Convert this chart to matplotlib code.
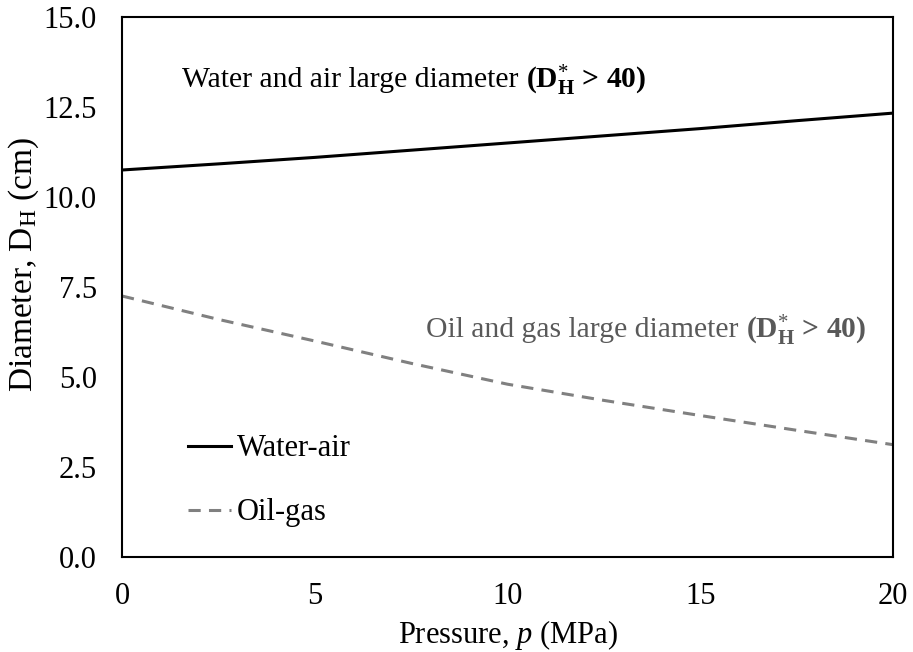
import matplotlib
matplotlib.use("Agg")
import matplotlib.pyplot as plt

pressure = [0, 2.5, 5, 7.5, 10, 12.5, 15, 17.5, 20]
water_air = [10.75, 10.92, 11.1, 11.3, 11.5, 11.7, 11.9, 12.12, 12.33]
oil_gas = [7.25, 6.6, 6.0, 5.38, 4.8, 4.35, 3.93, 3.52, 3.12]
xticks = [0, 5, 10, 15, 20]
yticks = [0.0, 2.5, 5.0, 7.5, 10.0, 12.5, 15.0]

plt.rcParams['font.family'] = ['Liberation Serif', 'DejaVu Serif']
plt.rcParams['mathtext.fontset'] = 'custom'
plt.rcParams['mathtext.rm'] = 'Liberation Serif'
plt.rcParams['mathtext.it'] = 'Liberation Serif:italic'
plt.rcParams['mathtext.bf'] = 'Liberation Serif:bold'

fig = plt.figure(figsize=(9.13, 6.52), dpi=100)
ax = fig.add_axes([122/913, 1-557/652, (893-122)/913, (557-17)/652])

ax.plot(pressure, water_air, color='black', lw=2.2, label='Water-air')
ax.plot(pressure, oil_gas, color='#808080', lw=2.2, dashes=(4, 2.7), label='Oil-gas')

ax.set_xlim(0, 20)
ax.set_ylim(0, 15)
ax.set_xticks(xticks)
ax.set_xticklabels([str(v) for v in xticks])
ax.set_yticks(yticks)
ax.set_yticklabels([f"{v:.1f}" for v in yticks])
ax.tick_params(length=0, labelsize=22, pad=18)
for s in ax.spines.values():
    s.set_linewidth(1.5)
    s.set_color('black')

ax.set_xlabel(r'Pressure, $\it{p}$ (MPa)', fontsize=22, labelpad=5)
ax.set_ylabel(r'Diameter, D$_\mathrm{H}$ (cm)', fontsize=24)
ax.yaxis.set_label_coords(-0.105, 0.541)

def label(x, y, plain, color):
    t1 = ax.text(x, y, plain, fontsize=21.3, color=color, va='center', ha='left')
    ax.annotate(r'(D$_\mathbf{H}^{*}$ > 40)', xy=(1, 0.5), xycoords=t1,
                fontsize=21.3, color=color, va='center', ha='left',
                fontweight='bold')

label(1.56, 13.25, 'Water and air large diameter ', 'black')
label(7.89, 6.3, 'Oil and gas large diameter ', '#595959')

leg = ax.legend(loc='lower left', bbox_to_anchor=(0.05, 0.004), frameon=False,
                fontsize=22, handlelength=1.4, handletextpad=0.2, labelspacing=1.15)

fig.savefig('out.png', dpi=100)
